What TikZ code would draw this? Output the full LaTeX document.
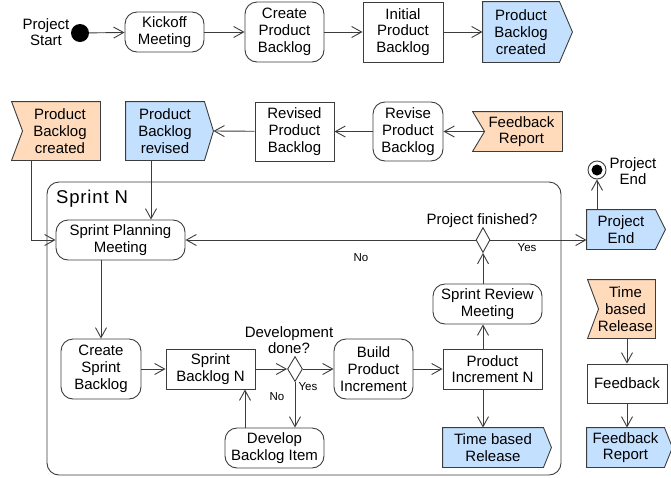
\documentclass[tikz,border=0pt]{standalone}
\usepackage{fontspec}
\setmainfont{Liberation Sans}
\newfontfamily\titlefont[LetterSpace=4.5]{Liberation Sans}
\usetikzlibrary{arrows.meta,backgrounds,calc,shapes.geometric}

\definecolor{sendblue}{RGB}{196,224,255}
\definecolor{recvorange}{RGB}{255,219,188}
\definecolor{edge}{RGB}{60,60,60}

\tikzset{
  base/.style={draw=edge, line width=0.9pt, align=center, inner sep=0pt,
    font=\fontsize{15}{16.7}\selectfont, text=black},
  action/.style={base, rounded corners=12pt},
  objbox/.style={base},
  sigtext/.style={base, draw=none},
  decision/.style={diamond, draw=edge, line width=0.9pt, fill=white, inner sep=0pt},
  arr/.style={draw=edge, line width=0.9pt, -{Straight Barb[length=10pt,width=11pt]}},
  plain/.style={draw=edge, line width=0.9pt},
  lbl/.style={font=\fontsize{15}{16.7}\selectfont, inner sep=0pt, align=center},
  small/.style={font=\fontsize{11.5}{13}\selectfont, inner sep=0pt},
}

% outgoing signal: box with a pointed right side
\newcommand\sendsig[2]{%
  \path[draw=edge, line width=0.9pt, fill=sendblue]
    (#1.north west) -- (#1.north east) -- ($(#1.east)+(#2,0)$)
    -- (#1.south east) -- (#1.south west) -- cycle;}
% incoming signal: box with a notched left side
\newcommand\recvsig[2]{%
  \path[draw=edge, line width=0.9pt, fill=recvorange]
    (#1.north west) -- (#1.north east) -- (#1.south east)
    -- (#1.south west) -- ($(#1.west)+(#2,0)$) -- cycle;}

\begin{document}
\begin{tikzpicture}[x=1pt,y=-1pt]
\useasboundingbox (0,0) rectangle (671,477);

% sprint container
\node[draw=edge, line width=0.9pt, rounded corners=12pt, minimum width=514pt,
      minimum height=293pt, inner sep=0pt] (sprint) at (304,328.5) {};
\node[anchor=west, inner sep=0pt, font=\titlefont\fontsize{18.5}{20}\selectfont]
      (sprintlbl) at (56,199) {Sprint N};

% top row
\node[lbl] (startlbl) at (46,32) {Project\\Start};
\node[circle, fill=black, minimum size=18pt, inner sep=0pt] (start) at (80,33) {};
\node[action, minimum width=79pt, minimum height=40pt] (kick) at (164.5,32) {Kickoff\\Meeting};
\node[action, minimum width=79pt, minimum height=60pt] (cpb) at (284.5,32) {Create\\Product\\Backlog};
\node[objbox, minimum width=80pt, minimum height=60pt] (ipb) at (403,32) {Initial\\Product\\Backlog};
\node[sigtext, minimum width=76pt, minimum height=60pt] (pbc1) at (521,32) {Product\\Backlog\\created};

% second row
\node[sigtext, minimum width=88pt, minimum height=58pt] (pbc2) at (56,131) {\hspace*{8pt}Product\\\hspace*{8pt}Backlog\\\hspace*{8pt}created};
\node[sigtext, minimum width=78pt, minimum height=58pt] (pbrev) at (165,131) {Product\\Backlog\\revised};
\node[objbox, minimum width=79pt, minimum height=59pt] (rpb) at (294.5,131.5) {Revised\\Product\\Backlog};
\node[action, minimum width=70pt, minimum height=59pt] (revpb) at (408,131.5) {Revise\\Product\\Backlog};
\node[sigtext, minimum width=89pt, minimum height=39pt] (fbr1) at (517.5,131.5) {\hspace*{8pt}Feedback\\\hspace*{8pt}Report};
\coordinate (pbrevtip) at ($(pbrev.east)+(9,0)$);
\coordinate (fbr1notch) at ($(fbr1.west)+(12,0)$);

% project end
\node[circle, draw=edge, line width=0.9pt, fill=white, minimum size=18pt, inner sep=0pt] (fin) at (597,170) {};
\node[circle, fill=black, minimum size=11pt, inner sep=0pt] (fincore) at (597,170) {};
\node[lbl] (finlbl) at (633,171) {Project\\End};
\node[sigtext, minimum width=68pt, minimum height=39pt] (pe) at (621,229.5) {Project\\End};

% sprint contents
\node[action, minimum width=129pt, minimum height=40pt] (spm) at (120.5,240) {Sprint Planning\\Meeting};
\node[decision, minimum width=14pt, minimum height=25pt] (dec2) at (483,240) {};
\node[lbl] (dec2lbl) at (482,221) {Project finished?};
\node[action, minimum width=109pt, minimum height=40pt] (srm) at (487.5,304) {Sprint Review\\Meeting};
\node[objbox, minimum width=99pt, minimum height=40pt] (pin) at (492.5,369) {Product\\Increment N};
\node[sigtext, minimum width=100pt, minimum height=39pt] (tbr1) at (493,447.5) {Time based\\Release};
\node[action, minimum width=79pt, minimum height=60pt] (bpi) at (373.5,369) {Build\\Product\\Increment};
\node[action, minimum width=80pt, minimum height=60pt] (csb) at (101,369) {Create\\Sprint\\Backlog};
\node[objbox, minimum width=89pt, minimum height=40pt] (sbn) at (210.5,369) {Sprint\\Backlog N};
\node[decision, minimum width=15pt, minimum height=25pt] (dec1) at (295,369) {};
\node[lbl] (dec1lbl) at (289,340) {Development\\done?};
\node[action, minimum width=99pt, minimum height=40pt] (dbi) at (274.5,448) {Develop\\Backlog Item};

% right column
\node[sigtext, minimum width=67pt, minimum height=58pt] (tbr2) at (621.5,309) {\hspace*{8pt}Time\\\hspace*{8pt}based\\\hspace*{8pt}Release};
\node[objbox, minimum width=80pt, minimum height=39pt] (fb) at (627,383.5) {Feedback};
\node[sigtext, minimum width=77pt, minimum height=39pt] (fbr2) at (625.5,447.5) {Feedback\\Report};

% signal outlines behind their texts
\begin{scope}[on background layer]
  \sendsig{pbc1}{13}
  \sendsig{pbrev}{9}
  \sendsig{pe}{10}
  \sendsig{tbr1}{8}
  \sendsig{fbr2}{8}
  \recvsig{pbc2}{11}
  \recvsig{fbr1}{12}
  \recvsig{tbr2}{11}
\end{scope}

% flows
\draw[arr] (start) -- (kick);
\draw[arr] (kick) -- (cpb);
\draw[arr] (cpb) -- (ipb);
\draw[arr] (ipb) -- (pbc1);
\draw[arr] (fbr1notch) -- (revpb);
\draw[arr] (revpb) -- (rpb);
\draw[arr] (rpb) -- (pbrevtip);
\draw[arr] ([xshift=-25pt]pbc2.south) |- (spm.west);
\draw[arr] ([xshift=-14pt]pbrev.south) -- ([xshift=-14pt]pbrev.south |- spm.north);
\draw[arr] (dec2.west) -- (spm.east);
\node[small] (nolbl2) at (361,258) {No};
\draw[arr] (dec2.east) -- (dec2.east -| pe.west);
\node[small] (yeslbl2) at (527,248) {Yes};
\draw[arr] (pe.north -| fin.south) -- (fin.south);
\draw[arr] (dec2.south |- srm.north) -- (dec2.south);
\draw[arr] (dec2.south |- pin.north) -- (dec2.south |- srm.south);
\draw[arr] (dec2.south |- pin.south) -- (dec2.south |- tbr1.north);
\draw[arr] (bpi) -- (pin);
\draw[arr] (csb.north |- spm.south) -- (csb.north);
\draw[arr] (csb) -- (sbn);
\draw[arr] (sbn) -- (dec1.west);
\draw[arr] (dec1.east) -- (bpi.west);
\node[small] (yeslbl1) at (308,387) {Yes};
\draw[arr] (dec1.south) -- (dec1.south |- dbi.north);
\node[small] (nolbl1) at (277,397) {No};
\draw[arr] ([xshift=-29.5pt]dbi.north) -- ([xshift=-29.5pt]dbi.north |- sbn.south);
\draw[arr] (fb.north |- tbr2.south) -- (fb.north);
\draw[arr] (fb.south |- fb.south) -- (fb.south |- fbr2.north);
\end{tikzpicture}
\end{document}
